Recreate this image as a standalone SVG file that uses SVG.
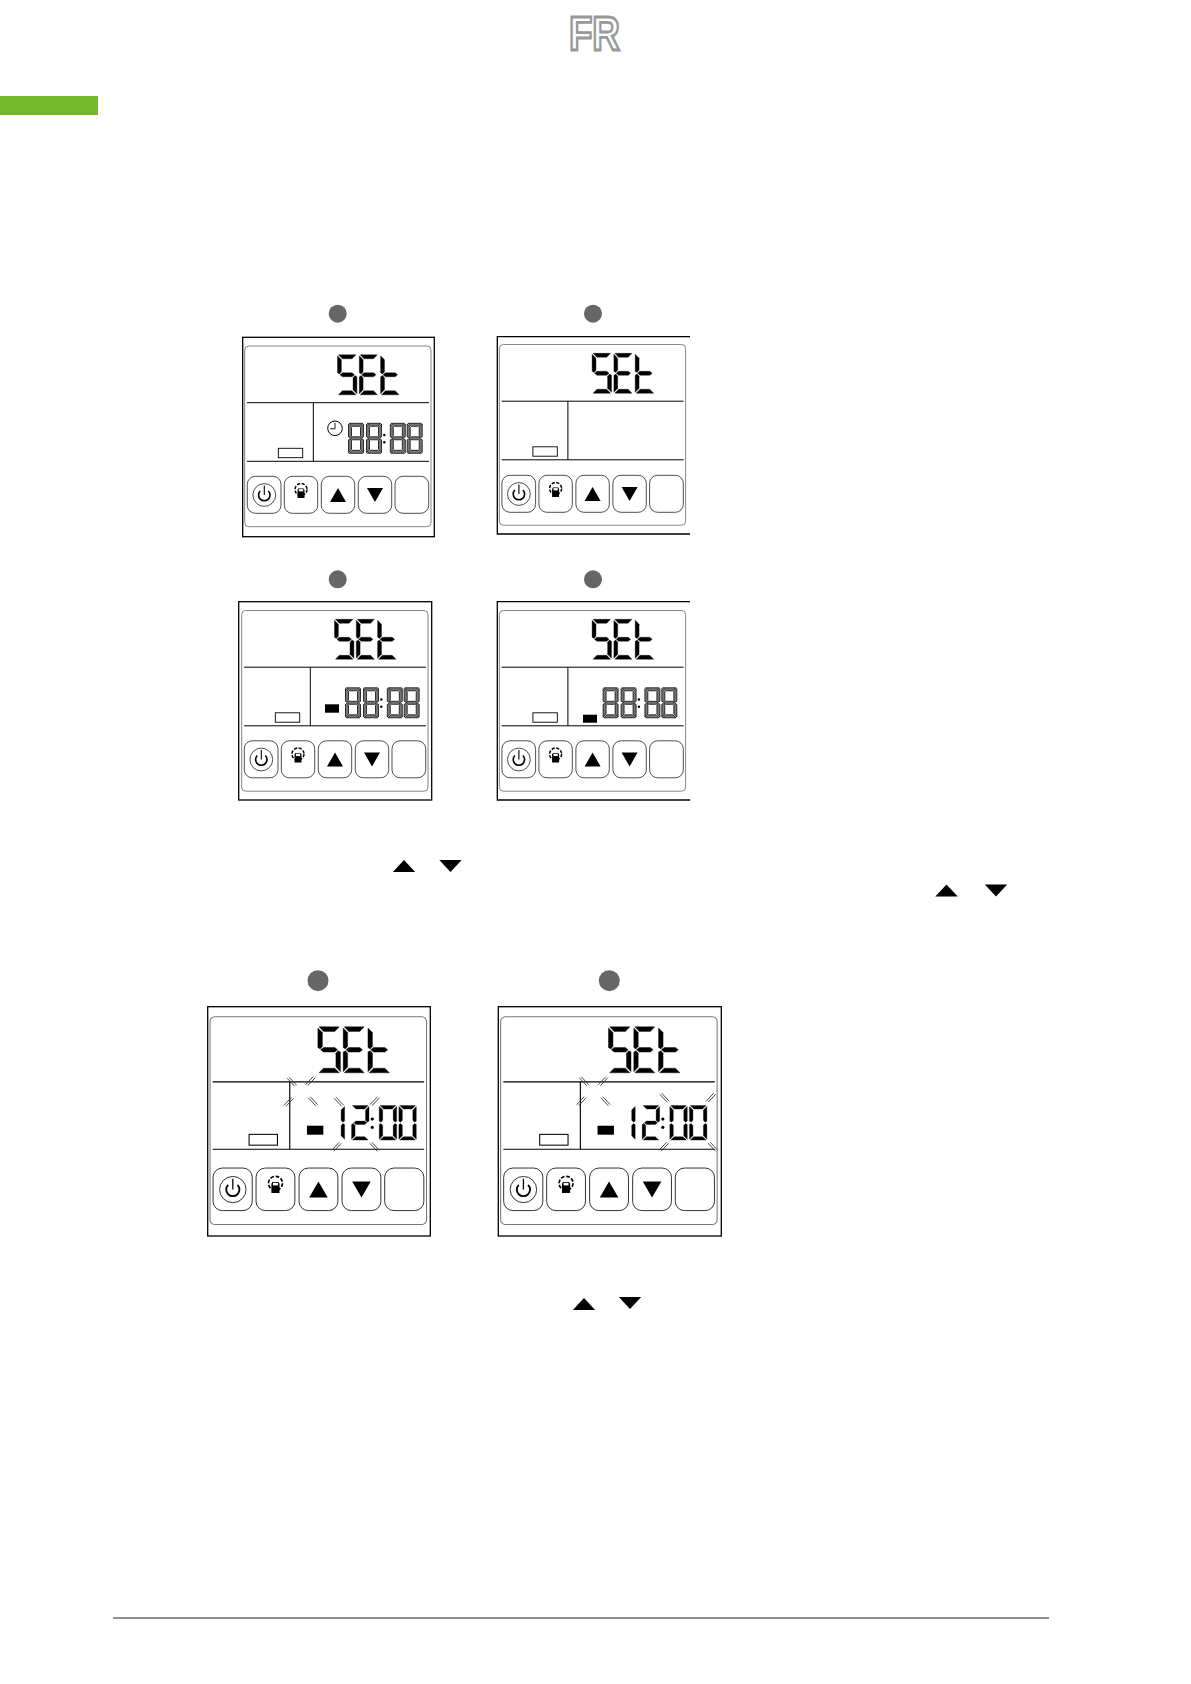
<svg xmlns="http://www.w3.org/2000/svg" xmlns:xlink="http://www.w3.org/1999/xlink" width="1191" height="1684" viewBox="0 0 1191 1684">
<style>
.outer{fill:none;stroke:#000;stroke-width:1.3}
.inner{fill:none;stroke:#777;stroke-width:.9}
.ln{fill:none;stroke:#000;stroke-width:1}
.key{fill:#fff;stroke:#222;stroke-width:.8}
.dot{fill:#666}
.tick{stroke:#333;stroke-width:.9;fill:none}
.blk{fill:#000;stroke:#000;stroke-width:.35}
.hollow{fill:#777;stroke:#000;stroke-width:1}
</style>
<defs>
<polygon id="sa" points="1,0 19,0 15,4 5,4"/>
<polygon id="sf" points="0,1 4,5 4,17 2,19.2 0,18"/>
<polygon id="sb" points="20,1 16,5 16,17 18,19.2 20,18"/>
<polygon id="sg" points="2.5,20 5,18 15,18 17.5,20 15,22 5,22"/>
<polygon id="se" points="0,22 2,20.8 4,23 4,35 0,39"/>
<polygon id="sc" points="20,22 18,20.8 16,23 16,35 20,39"/>
<polygon id="sd" points="1,40 5,36 15,36 19,40"/>
<g id="d8"><use href="#sa"/><use href="#sb"/><use href="#sc"/><use href="#sd"/><use href="#se"/><use href="#sf"/><use href="#sg"/></g>
<g id="d0"><use href="#sa"/><use href="#sb"/><use href="#sc"/><use href="#sd"/><use href="#se"/><use href="#sf"/></g>
<g id="d1"><use href="#sb"/><use href="#sc"/></g>
<g id="d2"><use href="#sa"/><use href="#sb"/><use href="#sg"/><use href="#se"/><use href="#sd"/></g>
<g id="dS"><use href="#sa"/><use href="#sf"/><use href="#sg"/><use href="#sc"/><use href="#sd"/></g>
<g id="dE"><use href="#sa"/><use href="#sf"/><use href="#sg"/><use href="#se"/><use href="#sd"/></g>
<g id="dt"><use href="#sf"/><use href="#sg"/><use href="#se"/><use href="#sd"/></g>
<polygon id="up" points="0,-7 8,7 -8,7"/>
<polygon id="down" points="-8,-7 8,-7 0,7"/>
<g id="bs"><line x1="-3.5" y1="-5" x2="4" y2="3" class="tick"/><line x1="-1.5" y1="-6" x2="6" y2="2" class="tick"/></g>
<g id="fs"><line x1="3.5" y1="-5" x2="-4" y2="3" class="tick"/><line x1="1.5" y1="-6" x2="-6" y2="2" class="tick"/></g>
<g id="screen">
<rect class="inner" x="244.7" y="346" width="186.3" height="180.7" rx="4"/>
<path class="ln" d="M247 402.7H429M247 461.3H429M313.3 402.7V461.3"/>
<rect x="278.3" y="448.3" width="24.4" height="9.4" fill="#fff" stroke="#000" stroke-width=".9"/>
<g class="blk">
<use href="#dS" transform="translate(337.5 354.8) scale(.97 1)"/>
<use href="#dE" transform="translate(359.3 354.8) scale(.95 1)"/>
<use href="#dt" transform="translate(380.6 354.8) scale(.97 1)"/>
</g>
</g>
<g id="keys">
<rect class="key" x="247.3" y="476.3" width="33.7" height="37" rx="8"/>
<rect class="key" x="284.3" y="476.3" width="33.4" height="37" rx="8"/>
<rect class="key" x="321.3" y="476.3" width="33.4" height="37" rx="8"/>
<rect class="key" x="358.3" y="476.3" width="33.4" height="37" rx="8"/>
<rect class="key" x="395" y="476.3" width="33.7" height="37" rx="8"/>
<circle cx="264.3" cy="495" r="11.4" fill="none" stroke="#222" stroke-width=".8"/>
<path d="M260.3 491A5.7 5.7 0 1 0 268.3 491" fill="none" stroke="#000" stroke-width="1.6"/>
<line x1="264.3" y1="485.5" x2="264.3" y2="495" stroke="#000" stroke-width="1.1"/>
<circle cx="301" cy="489.5" r="6" fill="none" stroke="#000" stroke-width="1.5" stroke-dasharray="3.2 1.5"/>
<rect x="297.5" y="489.5" width="7" height="8.5" fill="#000"/>
<rect x="298.5" y="488.8" width="5" height="3" fill="#fff" stroke="#000" stroke-width=".7"/>
<use href="#up" transform="translate(338 495)"/>
<use href="#down" transform="translate(375 495)"/>
</g>
<g id="t88" class="hollow">
<use href="#d8" transform="translate(348.5 423.3) scale(.75 .75)"/>
<use href="#d8" transform="translate(366.5 423.3) scale(.75 .75)"/>
<use href="#d8" transform="translate(390.3 423.3) scale(.75 .75)"/>
<use href="#d8" transform="translate(407.2 423.3) scale(.75 .75)"/>
<circle cx="384.3" cy="435" r="1.2" fill="#000" stroke="none"/>
<circle cx="384.3" cy="442.3" r="1.2" fill="#000" stroke="none"/>
</g>
<g id="t12" class="blk">
<use href="#d1" transform="translate(345.5 423.3) scale(.75 .75)"/>
<use href="#d2" transform="translate(366.5 423.3) scale(.75 .75)"/>
<use href="#d0" transform="translate(390.3 423.3) scale(.75 .75)"/>
<use href="#d0" transform="translate(407.2 423.3) scale(.75 .75)"/>
<circle cx="384.3" cy="435" r="1.2"/>
<circle cx="384.3" cy="442.3" r="1.2"/>
</g>
</defs>
<rect width="1191" height="1684" fill="#fff"/>
<g id="header">
<text x="569" y="50" font-family="'Liberation Sans Narrow','Liberation Sans',sans-serif" font-weight="700" font-size="48" textLength="51" lengthAdjust="spacingAndGlyphs" fill="#fff" stroke="#999" stroke-width="2.8">FR</text>
<rect x="0" y="96" width="98" height="19" fill="#76b82a"/>
</g>
<g id="panel-1">
<circle class="dot" cx="337.7" cy="313.7" r="9"/>
<rect class="outer" x="242.7" y="337.3" width="191.6" height="199.4"/>
<use href="#screen"/><use href="#keys"/><use href="#t88"/>
<circle cx="335" cy="428.3" r="7.3" fill="none" stroke="#000" stroke-width="1"/>
<path d="M335 423V428.8H330" fill="none" stroke="#000" stroke-width=".9"/>
</g>
<g id="panel-2">
<circle class="dot" cx="593" cy="313.7" r="9"/>
<path class="outer" d="M690 336.7H497.3V534H690"/>
<g transform="translate(254.6 -1.5)"><use href="#screen"/></g>
<g transform="translate(254.6 -1)"><use href="#keys"/></g>
</g>
<g id="panel-3">
<circle class="dot" cx="337.7" cy="579.3" r="9"/>
<rect class="outer" x="238.7" y="601.7" width="193" height="198.3"/>
<g transform="translate(-3 264.5)"><use href="#screen"/><use href="#keys"/><use href="#t88"/>
<rect x="328" y="439.8" width="14" height="8.4"/></g>
</g>
<g id="panel-4">
<circle class="dot" cx="593" cy="579.3" r="9"/>
<path class="outer" d="M690 601.7H497.3V800H690"/>
<g transform="translate(254.6 264.5)"><use href="#screen"/><use href="#keys"/><use href="#t88"/>
<rect x="328.4" y="450.2" width="14" height="8"/></g>
</g>
<g id="arrows">
<use href="#up" transform="translate(404 866) scale(1.4 .85)"/>
<use href="#down" transform="translate(450.5 866) scale(1.4 .85)"/>
<use href="#up" transform="translate(946.5 890.5) scale(1.4 .85)"/>
<use href="#down" transform="translate(996 890.5) scale(1.4 .85)"/>
<use href="#up" transform="translate(584 1304) scale(1.4 .85)"/>
<use href="#down" transform="translate(630 1303) scale(1.4 .85)"/>
</g>
<g id="panel-5">
<circle class="dot" cx="318" cy="980.7" r="10.5"/>
<rect class="outer" x="207.7" y="1006.7" width="222.6" height="229.3"/>
<g transform="translate(-74.3 618.8) scale(1.162 1.15)"><use href="#screen"/><use href="#t12"/>
<rect x="328.1" y="440.8" width="14.1" height="7.8"/></g>
<g transform="translate(-74.3 620.3) scale(1.162 1.15)"><use href="#keys"/></g>
<use href="#bs" x="290.7" y="1083.3"/><use href="#fs" x="311.7" y="1082.7"/>
<use href="#fs" x="290" y="1103.3"/><use href="#bs" x="311.7" y="1102.7"/>
<use href="#bs" x="337.7" y="1103.3"/><use href="#fs" x="376" y="1102.7"/>
<use href="#fs" x="337.7" y="1148.3"/><use href="#bs" x="373.3" y="1148.3"/>
</g>
<g id="panel-6">
<circle class="dot" cx="609.3" cy="980.7" r="10.5"/>
<rect class="outer" x="498.3" y="1006.7" width="223" height="229.3"/>
<g transform="translate(216.3 618.8) scale(1.162 1.15)"><use href="#screen"/><use href="#t12"/>
<rect x="328.1" y="440.8" width="14.1" height="7.8"/></g>
<g transform="translate(216.3 620.3) scale(1.162 1.15)"><use href="#keys"/></g>
<use href="#bs" x="582.7" y="1082.7"/><use href="#fs" x="604.3" y="1082.7"/>
<use href="#fs" x="582.7" y="1102.7"/><use href="#bs" x="604.3" y="1102.7"/>
<use href="#bs" x="663.3" y="1099.3"/><use href="#fs" x="712" y="1099.3"/>
<use href="#fs" x="665" y="1148.3"/><use href="#bs" x="711.7" y="1148.3"/>
</g>
<line id="footer-rule" x1="113" y1="1618" x2="1049" y2="1618" stroke="#222" stroke-width="1.2"/>
</svg>
